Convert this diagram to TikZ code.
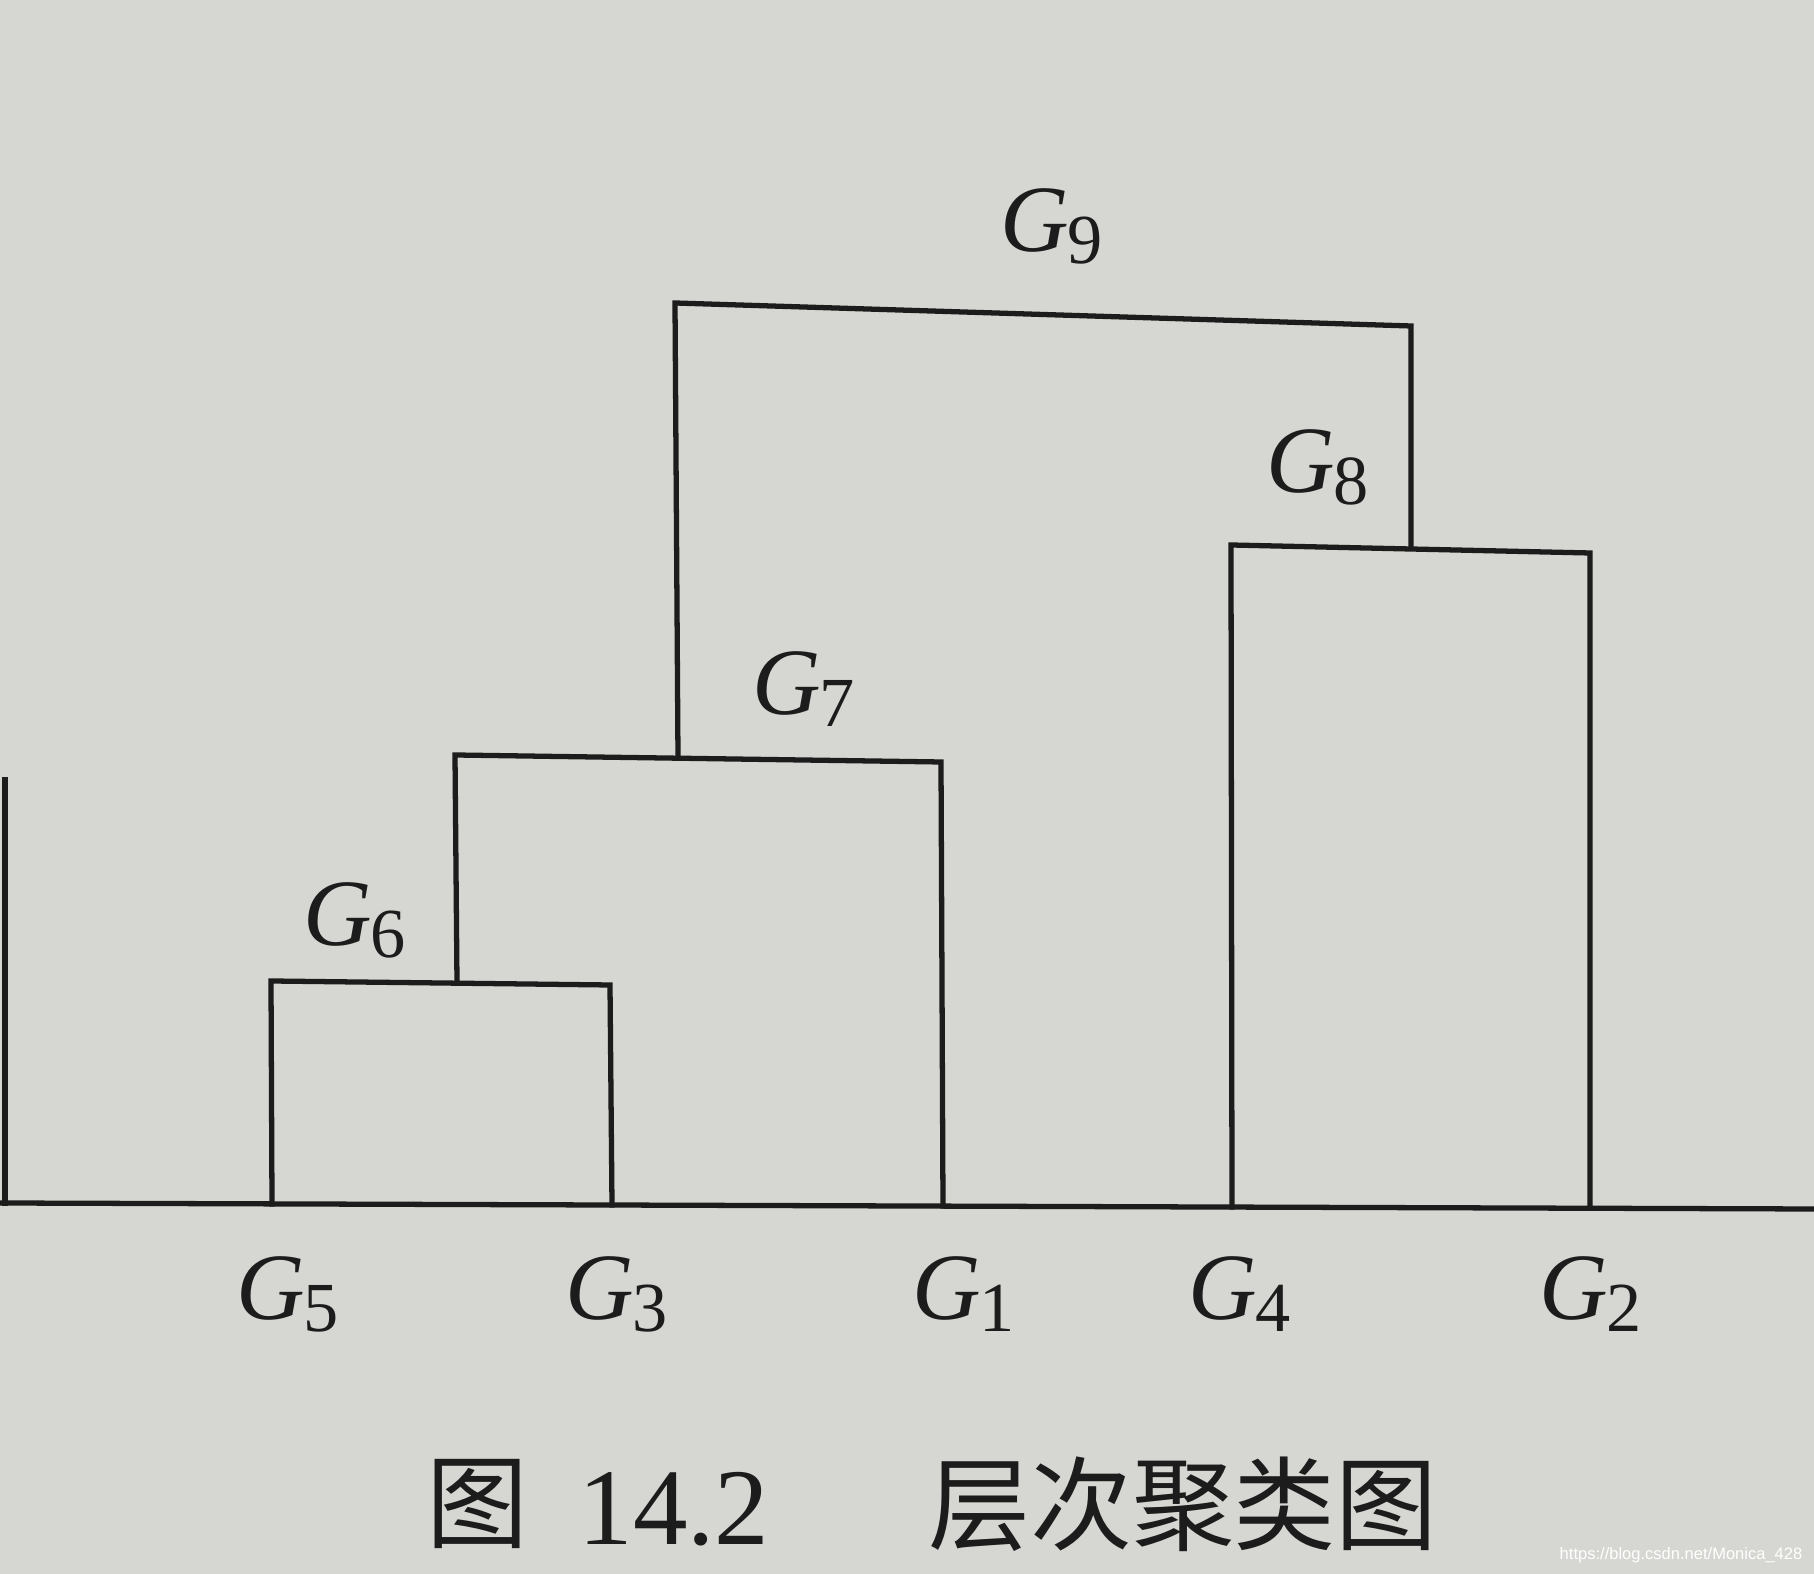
\documentclass[tikz,border=0pt]{standalone}
\usepackage{fontspec}
\newfontfamily\cjk{Noto Sans CJK SC}
\newfontfamily\tms{Liberation Serif}
\newfontfamily\wmfont{Liberation Sans}
\definecolor{paper}{RGB}{214,214,210}
\definecolor{ink}{RGB}{28,28,28}
\newcommand\glab[1]{{\tms\fontsize{27}{30}\selectfont\itshape G}\kern-0.06em\raisebox{-0.32em}{\tms\fontsize{20}{22}\selectfont #1}}
\tikzset{
  link/.style={draw=ink, line width=1.5pt, line join=miter, line cap=rect},
  lbl/.style={anchor=base west, inner sep=0pt, text=ink},
  captext/.style={inner sep=0pt, text=ink}
}
\begin{document}
\begin{tikzpicture}[x=0.01cm,y=-0.01cm]
\fill[paper] (0,0) rectangle (1814,1574);
\useasboundingbox (0,0) rectangle (1814,1574);
% baseline
\coordinate (bl) at (0,1203);
\coordinate (br) at (1814,1209);
% leaves on baseline
\coordinate (b0) at (5,1203);
\coordinate (b5) at (272,1204);
\coordinate (b3) at (612,1205);
\coordinate (b1) at (943,1206);
\coordinate (b4) at (1232,1207);
\coordinate (b2) at (1590,1208);
% tops
\coordinate (t0) at (5,780);
\coordinate (t5) at (271,981);
\coordinate (t3) at (610,985);
\coordinate (m6) at (457,983);
\coordinate (t7l) at (455,755);
\coordinate (t7r) at (941,762);
\coordinate (m7) at (678,758);
\coordinate (t9l) at (675,303);
\coordinate (t9r) at (1411,326);
\coordinate (t4) at (1231,545);
\coordinate (t2) at (1590,553);
\coordinate (m8) at (1411,548);

\draw[link] (bl) -- (br);
\draw[link] (b0) -- (t0);
\draw[link] (b5) -- (t5) -- (t3) -- (b3);
\draw[link] (m6) -- (t7l) -- (t7r) -- (b1);
\draw[link] (b4) -- (t4) -- (t2) -- (b2);
\draw[link] (m7) -- (t9l) -- (t9r) -- (m8);

% labels
\node[lbl] (l9) at (1000,252) {\glab{9}};
\node[lbl] (l8) at (1266,493) {\glab{8}};
\node[lbl] (l7) at (752,715) {\glab{7}};
\node[lbl] (l6) at (303,946) {\glab{6}};
\node[lbl] (l5) at (236,1320) {\glab{5}};
\node[lbl] (l3) at (565,1320) {\glab{3}};
\node[lbl] (l1) at (912,1320) {\glab{1}};
\node[lbl] (l4) at (1188,1320) {\glab{4}};
\node[lbl] (l2) at (1539,1320) {\glab{2}};

% caption
\node[captext] (c1) at (477,1504) {\cjk\fontsize{29}{32}\selectfont 图};
\node[captext, anchor=base] (c2) at (674,1545) {\tms\fontsize{31}{34}\selectfont 14.2};
\node[captext] (c3) at (1183,1504) {\cjk\fontsize{29}{32}\selectfont 层次聚类图};

% watermark
\node[inner sep=0pt, text=white, anchor=east] (wm) at (1803,1555) {\wmfont\fontsize{4.7}{5}\selectfont https://blog.csdn.net/Monica\_428};
\end{tikzpicture}
\end{document}
